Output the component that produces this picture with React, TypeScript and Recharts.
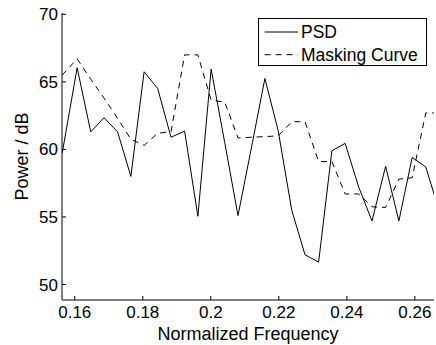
import { LineChart, Line, XAxis, YAxis, Legend } from 'recharts'

// normalized frequency of each bin
const freq = [
  0.1563, 0.1607, 0.1647, 0.1686, 0.1726, 0.1765, 0.1804, 0.1844, 0.1883, 0.1923,
  0.1962, 0.2001, 0.2041, 0.208, 0.212, 0.2159, 0.2198, 0.2238, 0.2277, 0.2317,
  0.2356, 0.2395, 0.2435, 0.2474, 0.2514, 0.2553, 0.2592, 0.2632, 0.2671,
]
const psd = [
  59.7, 66.05, 61.3, 62.35, 61.3, 58.0, 65.75, 64.5, 60.9, 61.35,
  55.05, 65.95, 60.5, 55.1, 60.2, 65.25, 61.4, 55.5, 52.2, 51.65,
  59.9, 60.45, 57.2, 54.7, 58.75, 54.7, 59.4, 58.7, 55.5,
]
const masking = [
  65.5, 66.7, 65.2, 63.8, 62.3, 60.75, 60.3, 61.2, 61.3, 67.0,
  67.0, 63.65, 63.5, 60.85, 60.9, 60.95, 61.0, 62.05, 62.05, 59.1,
  59.1, 56.7, 56.7, 55.75, 55.7, 57.8, 57.9, 62.7, 62.7,
]
const xTicks = [0.16, 0.18, 0.2, 0.22, 0.24, 0.26]
const yTicks = [50, 55, 60, 65, 70]

const FONT = '"Liberation Sans", Arial, Helvetica, sans-serif'
const X_DOMAIN: [number, number] = [0.15625, 0.265625]
const Y_DOMAIN: [number, number] = [48.85, 70.1]

const rows = freq.map((f, i) => ({ f, psd: psd[i], masking: masking[i] }))

const legendItems = [
  { name: 'PSD', dash: undefined },
  { name: 'Masking Curve', dash: '6 5' },
]

function LegendBox() {
  return (
    <div
      style={{
        width: 169,
        height: 48,
        border: '1px solid #000',
        boxSizing: 'border-box',
        background: '#fff',
      }}
    >
      <svg width={167} height={46} style={{ display: 'block' }}>
        {legendItems.map((item, i) => {
          const cy = 13 + i * 22.7
          return (
            <g key={item.name}>
              <line x1={5.6} x2={39} y1={cy} y2={cy} stroke="#000" strokeWidth={1} strokeDasharray={item.dash} />
              <text x={42} y={cy + 6.2} fontSize={17.5} fontFamily={FONT} fill="#000">
                {item.name}
              </text>
            </g>
          )
        })}
      </svg>
    </div>
  )
}

function XLabel({ viewBox }: any) {
  if (!viewBox) return null
  return (
    <text
      x={viewBox.x + viewBox.width / 2}
      y={viewBox.y + viewBox.height - 5}
      textAnchor="middle"
      fontSize={18}
      fontFamily={FONT}
      fill="#000"
    >
      Normalized Frequency
    </text>
  )
}

function YLabel({ viewBox }: any) {
  if (!viewBox) return null
  const x = 28
  const cy = viewBox.y + viewBox.height / 2
  return (
    <text
      x={x}
      y={cy}
      transform={`rotate(-90, ${x}, ${cy})`}
      textAnchor="middle"
      fontSize={18}
      fontFamily={FONT}
      fill="#000"
    >
      Power / dB
    </text>
  )
}

const fmt = (v: number) => String(Number(v.toFixed(2)))
const tickStyle = { fill: '#000', fontSize: 17, fontFamily: FONT }

export default function App() {
  return (
    <div style={{ position: 'absolute', left: 0, top: 0, width: 436, height: 345, background: '#fff' }}>
      <LineChart width={436} height={345} data={rows} margin={{ top: 13, right: 2, bottom: 0, left: 0 }}>
        <XAxis
          dataKey="f"
          type="number"
          domain={X_DOMAIN}
          ticks={xTicks}
          allowDataOverflow
          interval={0}
          height={45}
          tickSize={-4}
          tickMargin={10}
          tickFormatter={fmt}
          tick={tickStyle}
          axisLine={{ stroke: '#000' }}
          tickLine={{ stroke: '#000' }}
          label={<XLabel />}
        />
        <XAxis
          xAxisId="top"
          orientation="top"
          type="number"
          domain={X_DOMAIN}
          ticks={xTicks}
          allowDataOverflow
          interval={0}
          height={0}
          tickSize={-4}
          tick={false}
          axisLine={{ stroke: '#000' }}
          tickLine={{ stroke: '#000' }}
        />
        <YAxis
          type="number"
          domain={Y_DOMAIN}
          ticks={yTicks}
          allowDataOverflow
          interval={0}
          width={62}
          tickSize={-4}
          tickMargin={8}
          tick={tickStyle}
          axisLine={{ stroke: '#000' }}
          tickLine={{ stroke: '#000' }}
          label={<YLabel />}
        />
        <YAxis
          yAxisId="right"
          orientation="right"
          type="number"
          domain={Y_DOMAIN}
          ticks={yTicks}
          allowDataOverflow
          interval={0}
          width={0}
          tickSize={-4}
          tick={false}
          axisLine={{ stroke: '#000' }}
          tickLine={{ stroke: '#000' }}
        />
        <Legend
          layout="vertical"
          align="center"
          verticalAlign="middle"
          content={<LegendBox />}
          wrapperStyle={{ position: 'absolute', left: 258, top: 18, width: 169, height: 48 }}
        />
        <Line
          type="linear"
          dataKey="psd"
          name="PSD"
          stroke="#000"
          strokeWidth={1}
          dot={false}
          activeDot={false}
          isAnimationActive={false}
        />
        <Line
          type="linear"
          dataKey="masking"
          name="Masking Curve"
          stroke="#000"
          strokeWidth={1}
          strokeDasharray="6 5"
          dot={false}
          activeDot={false}
          isAnimationActive={false}
        />
      </LineChart>
    </div>
  )
}
